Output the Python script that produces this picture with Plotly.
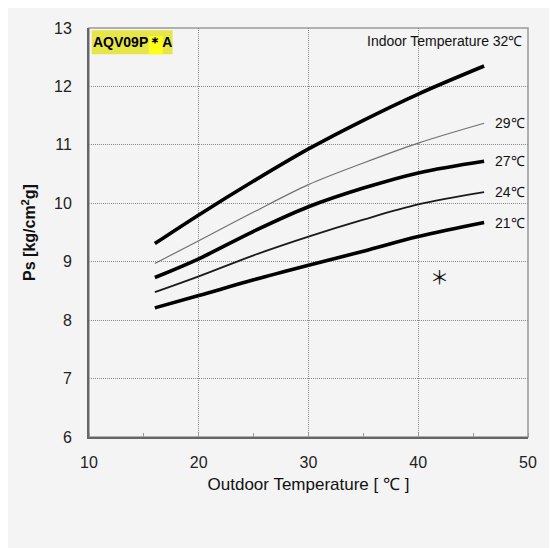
import plotly.graph_objects as go

# Outdoor temperature points (deg C)
outdoor = [16, 20, 25, 30, 35, 40, 46]

# Suction pressure Ps [kg/cm2g] for each indoor temperature
indoor_labels = ['32℃', '29℃', '27℃', '24℃', '21℃']
ps_32 = [9.31, 9.80, 10.38, 10.93, 11.42, 11.87, 12.35]
ps_29 = [8.97, 9.36, 9.85, 10.32, 10.69, 11.03, 11.37]
ps_27 = [8.73, 9.05, 9.52, 9.94, 10.26, 10.52, 10.72]
ps_24 = [8.48, 8.75, 9.11, 9.43, 9.72, 9.98, 10.19]
ps_21 = [8.21, 8.42, 8.69, 8.94, 9.18, 9.43, 9.67]

x_ticks = [10, 20, 30, 40, 50]
y_ticks = [6, 7, 8, 9, 10, 11, 12, 13]

series = [ps_32, ps_29, ps_27, ps_24, ps_21]
# line styles: thick black, thin gray, thick black, medium, thick black
styles = [('#000000', 3.6), ('#707070', 1.2), ('#000000', 3.6), ('#1a1a1a', 1.8), ('#000000', 3.6)]

SANS = 'Liberation Sans, Arial, sans-serif'
BG = '#f4f4f4'

fig = go.Figure()
for vals, (col, w), name in zip(series, styles, indoor_labels):
    fig.add_trace(go.Scatter(x=outdoor, y=vals, mode='lines', name=name,
                             line=dict(color=col, width=w, shape='spline', smoothing=1.0),
                             showlegend=False, hoverinfo='skip'))

# labels at the right end of each curve (32 gets the long label at top)
for vals, name in zip(series[1:], indoor_labels[1:]):
    fig.add_annotation(x=outdoor[-1] + 0.85, y=vals[-1], text=name, showarrow=False,
                       xanchor='left', yanchor='middle',
                       font=dict(family=SANS, size=14, color='#111'))

fig.add_annotation(x=49.6, y=12.77, text='Indoor Temperature 32℃', showarrow=False,
                   xanchor='right', yanchor='middle',
                   font=dict(family=SANS, size=14, color='#111'))

fig.add_annotation(x=41.95, y=8.75, text='＊', showarrow=False,
                   xanchor='center', yanchor='middle',
                   font=dict(family='Noto Sans CJK KR, sans-serif', size=19, color='#111'))

# model name tag with yellow background, brighter behind the asterisk
fig.add_shape(type='rect', xref='x', yref='y', x0=10.25, x1=17.62, y0=12.55, y1=12.96,
              fillcolor='#e6e64a', line_width=0, layer='above')
fig.add_shape(type='rect', xref='x', yref='y', x0=15.44, x1=16.71, y0=12.55, y1=12.86,
              fillcolor='#ffff1a', line_width=0, layer='above')
fig.add_annotation(x=13.93, y=12.755, text='<b>AQV09P＊A</b>', showarrow=False,
                   xanchor='center', yanchor='middle',
                   font=dict(family=SANS, size=14, color='#000'))

# light frame around the plot area
fig.add_shape(type='rect', xref='x domain', yref='y domain', x0=0, x1=1, y0=0, y1=1,
              line=dict(color='#999999', width=1.5), layer='below')

fig.update_xaxes(range=[10, 50], tickvals=x_ticks, showgrid=True, gridcolor='#8a8a8a',
                 griddash='1px,1px', gridwidth=1, zeroline=False,
                 showline=True, linecolor='#666666', linewidth=2,
                 ticks='outside', ticklen=0, ticklabelstandoff=10,
                 tickfont=dict(family=SANS, size=16, color='#222'),
                 minor=dict(dtick=5, ticks='inside', ticklen=4, tickcolor='#999', showgrid=False),
                 title=dict(text='Outdoor Temperature [ ℃ ]', standoff=8,
                            font=dict(family=SANS, size=17, color='#111')))
fig.update_yaxes(range=[6, 13], tickvals=y_ticks, showgrid=True, gridcolor='#8a8a8a',
                 griddash='1px,1px', gridwidth=1, zeroline=False,
                 showline=True, linecolor='#666666', linewidth=2,
                 ticks='outside', ticklen=0, ticklabelstandoff=12,
                 tickfont=dict(family=SANS, size=16, color='#222'),
                 title=dict(text='<b>Ps [kg/cm<sup>2</sup>g]</b>', standoff=14,
                            font=dict(family=SANS, size=16, color='#111')))

# the page body adds an 8px offset, so the margins are trimmed to keep the plot box in place
fig.update_layout(width=557, height=548, autosize=False,
                  margin=dict(l=81, r=37, t=17, b=119),
                  paper_bgcolor=BG, plot_bgcolor=BG)

fig.write_html('out.html')
